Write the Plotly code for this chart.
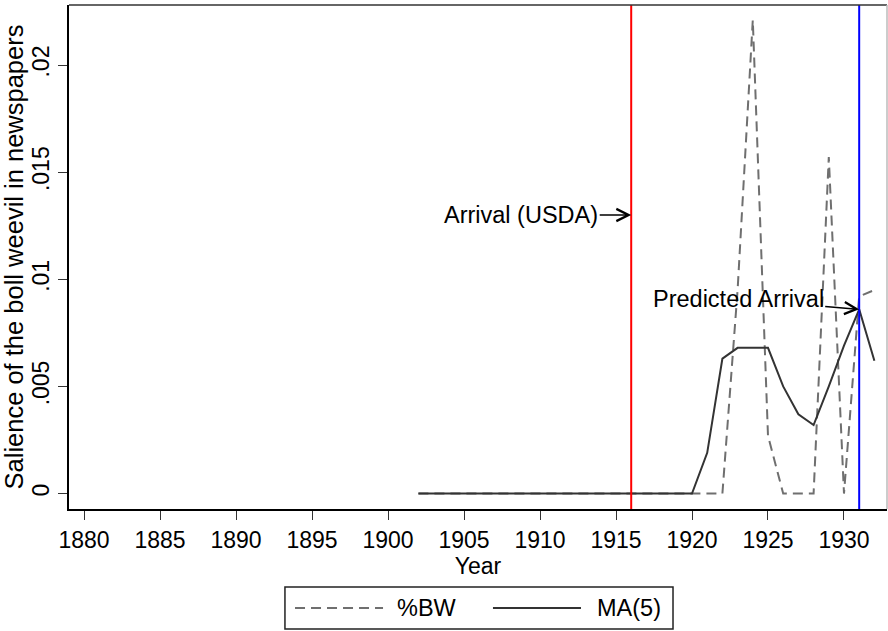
import plotly.graph_objects as go

years = list(range(1902, 1933))
bw_pct = [0.0] * 21 + [0.0095, 0.0221, 0.0027, 0.0, 0.0, 0.0, 0.0157, 0.0, 0.0092, 0.0095]
ma5 = [0.0] * 19 + [0.0019, 0.0063, 0.0068, 0.0068, 0.0068, 0.0050, 0.0037, 0.0032,
                    0.0050, 0.0069, 0.0086, 0.0062]

arrival_usda_year = 1916
predicted_year = 1931
arrival_label_y = 0.013
predicted_label_y = 0.0086

x_ticks = list(range(1880, 1931, 5))
y_ticks = [0, 0.005, 0.01, 0.015, 0.02]
y_tick_text = ["0", ".005", ".01", ".015", ".02"]

FONT = "Liberation Sans, Arial, Helvetica, sans-serif"
FS = 22
FS_NOTE = 23.5

fig = go.Figure()
fig.add_trace(go.Scatter(x=years, y=bw_pct, mode="lines", name="%BW",
                         line=dict(color="#6f6f6f", width=2, dash="10px,6px"),
                         showlegend=False))
fig.add_trace(go.Scatter(x=years, y=ma5, mode="lines", name="MA(5)",
                         line=dict(color="#333333", width=2),
                         showlegend=False))

fig.add_vline(x=arrival_usda_year, line=dict(color="#ff0000", width=2))
fig.add_vline(x=predicted_year, line=dict(color="#0000ff", width=2))

fig.add_annotation(x=arrival_usda_year, y=arrival_label_y, text="Arrival (USDA)",
                   showarrow=True, ax=-110, ay=0, arrowhead=5, arrowsize=1.6,
                   arrowwidth=1.5, arrowcolor="black", standoff=0,
                   font=dict(family=FONT, size=FS_NOTE, color="black"))
fig.add_annotation(x=predicted_year, y=predicted_label_y, text="Predicted Arrival",
                   showarrow=True, ax=-121, ay=-10, arrowhead=5, arrowsize=1.6,
                   arrowwidth=1.5, arrowcolor="black", standoff=0,
                   font=dict(family=FONT, size=FS_NOTE, color="black"))

# frame top / right
fig.add_shape(type="line", xref="paper", yref="paper", x0=0, x1=1, y0=1, y1=1,
              line=dict(color="#333333", width=1.5))
fig.add_shape(type="line", xref="paper", yref="paper", x0=1, x1=1, y0=0, y1=1,
              line=dict(color="#bbbbbb", width=1.5))

# legend (drawn manually to match the long line samples)
fig.add_shape(type="rect", xref="paper", yref="paper", x0=0.264, x1=0.7384,
              y0=-0.238, y1=-0.1548, line=dict(color="#222222", width=1.5),
              fillcolor="white")
fig.add_shape(type="line", xref="paper", yref="paper", x0=0.2763, x1=0.3839,
              y0=-0.1964, y1=-0.1964, line=dict(color="#6f6f6f", width=2, dash="10px,6px"))
fig.add_shape(type="line", xref="paper", yref="paper", x0=0.5183, x1=0.6259,
              y0=-0.1964, y1=-0.1964, line=dict(color="#333333", width=2))
fig.add_annotation(xref="paper", yref="paper", x=0.3985, y=-0.1964, text="%BW",
                   showarrow=False, xanchor="left", yanchor="middle",
                   font=dict(family=FONT, size=FS_NOTE, color="black"))
fig.add_annotation(xref="paper", yref="paper", x=0.6425, y=-0.1964, text="MA(5)",
                   showarrow=False, xanchor="left", yanchor="middle",
                   font=dict(family=FONT, size=FS_NOTE, color="black"))

fig.update_layout(
    width=888, height=631,
    margin=dict(l=69, r=1, t=5, b=122, pad=0, autoexpand=False),
    paper_bgcolor="white", plot_bgcolor="white",
    font=dict(family=FONT, size=FS, color="black"),
    showlegend=False,
    xaxis=dict(range=[1879.01, 1932.83], tickmode="array", tickvals=x_ticks,
               ticks="outside", ticklen=9, tickwidth=1, tickcolor="#333333",
               showline=True, linecolor="black", linewidth=2, showgrid=False,
               zeroline=False, automargin=False,
               tickfont=dict(family=FONT, size=23, color="black"),
               title=dict(text="Year", standoff=0,
                          font=dict(family=FONT, size=23, color="black")),
               ticklabelstandoff=0),
    yaxis=dict(range=[-0.00072, 0.0228], tickmode="array", tickvals=y_ticks,
               ticktext=y_tick_text, tickangle=-90,
               ticks="outside", ticklen=9, tickwidth=1, tickcolor="#333333",
               showline=True, linecolor="black", linewidth=2, showgrid=False,
               zeroline=False, automargin=False,
               tickfont=dict(family=FONT, size=23, color="black"),
               title=dict(text="Salience of the boll weevil in newspapers", standoff=10,
                          font=dict(family=FONT, size=25.5, color="black")),
               ticklabelstandoff=0),
)

fig.write_html("out.html", config={"displayModeBar": False},
               post_script="document.body.style.margin='0';document.body.style.overflow='hidden';")
